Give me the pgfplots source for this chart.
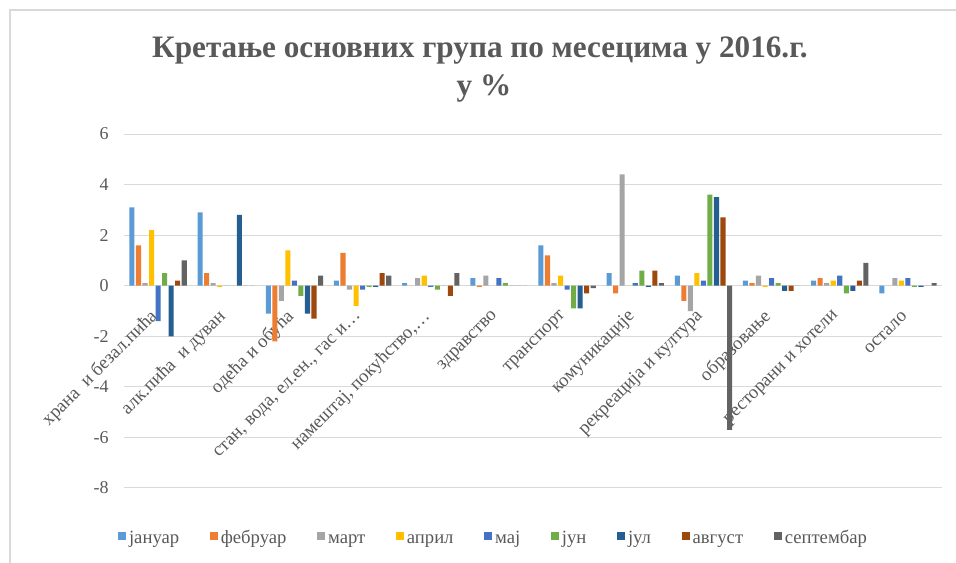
\documentclass[border=0pt]{standalone}
\usepackage{fontspec}
\setmainfont{Liberation Serif}
\usepackage{pgfplots}
\usepackage{pgfplotstable}
\pgfplotsset{compat=1.18}
\definecolor{txt}{HTML}{595959}
\definecolor{grd}{HTML}{D9D9D9}
\definecolor{cA}{HTML}{5B9BD5}
\definecolor{cB}{HTML}{ED7D31}
\definecolor{cC}{HTML}{A5A5A5}
\definecolor{cD}{HTML}{FFC000}
\definecolor{cE}{HTML}{4472C4}
\definecolor{cF}{HTML}{70AD47}
\definecolor{cG}{HTML}{255E91}
\definecolor{cH}{HTML}{9E480E}
\definecolor{cI}{HTML}{636363}
\pgfplotstableread{
x jan feb mar apr maj jun jul avg sep
1 3.1 1.6 0.1 2.2 -1.4 0.5 -2.0 0.2 1.0
2 2.9 0.5 0.1 -0.05 0 0 2.8 0 0
3 -1.1 -2.2 -0.6 1.4 0.2 -0.4 -1.1 -1.3 0.4
4 0.2 1.3 -0.15 -0.8 -0.15 -0.05 -0.05 0.5 0.4
5 0.1 0 0.3 0.4 -0.05 -0.15 0 -0.4 0.5
6 0.3 -0.05 0.4 0 0.3 0.1 0 0 0
7 1.6 1.2 0.1 0.4 -0.15 -0.9 -0.9 -0.3 -0.1
8 0.5 -0.3 4.4 0 0.1 0.6 -0.05 0.6 0.1
9 0.4 -0.6 -1.0 0.5 0.2 3.6 3.5 2.7 -5.7
10 0.2 0.1 0.4 -0.05 0.3 0.1 -0.2 -0.2 0
11 0.2 0.3 0.1 0.2 0.4 -0.3 -0.2 0.2 0.9
12 -0.3 0 0.3 0.2 0.3 -0.05 -0.05 0 0.1
}\data
\begin{document}
\begin{tikzpicture}
\path[use as bounding box, fill=white] (0,0) rectangle (717pt,422.25pt);
\draw[grd, line width=1.5pt] (7.5pt,0) -- (7.5pt,414.75pt) -- (717pt,414.75pt);
\node[font=\fontsize{23.4}{27}\selectfont\bfseries, text=txt, align=center] at (360pt,384pt) {Кретање основних група по месецима у 2016.г.};
\node[font=\fontsize{23.4}{27}\selectfont\bfseries, text=txt] at (363pt,356pt) {у \%};
\begin{axis}[
  at={(93pt,56.25pt)}, anchor=south west,
  scale only axis, width=613.5pt, height=265.5pt,
  ybar=1.1pt, bar width=3.8pt,
  xmin=0.5, xmax=12.5, ymin=-8, ymax=6,
  ytick={-8,-6,...,6},
  xtick={1,...,12},
  xticklabels={храна\ \ и безал.пића, алк.пића\ \ и дуван, одећа и обућа, {стан, вода, ел.ен., гас и…}, {намештај, покућство,…}, здравство, транспорт, комуникације, рекреација и култура, образовање, ресторани и хотели, остало},
  axis line style={draw=none},
  major tick length=0pt,
  ymajorgrids, grid style={grd, line width=0.75pt},
  /pgf/number format/assume math mode=true,
  yticklabel style={font=\fontsize{13.5}{16}\selectfont, text=txt, xshift=-8pt},
  xticklabel style={font=\fontsize{14}{16}\selectfont, text=txt, yshift=133pt, rotate=45, anchor=east},
  legend style={draw=none, fill=none, at={(0.4523,-0.145)}, anchor=center, font=\fontsize{14}{16}\selectfont, text=txt, legend columns=9, nodes={text height=9.5pt, text depth=3pt}, /tikz/every even column/.append style={column sep=21.2pt}},
  legend image code/.code={\fill[#1] (0pt,-0.5pt) rectangle (6pt,5.5pt);},
]
\addplot[fill=cA, draw=none] table[x=x, y=jan] {\data};
\addplot[fill=cB, draw=none] table[x=x, y=feb] {\data};
\addplot[fill=cC, draw=none] table[x=x, y=mar] {\data};
\addplot[fill=cD, draw=none] table[x=x, y=apr] {\data};
\addplot[fill=cE, draw=none] table[x=x, y=maj] {\data};
\addplot[fill=cF, draw=none] table[x=x, y=jun] {\data};
\addplot[fill=cG, draw=none] table[x=x, y=jul] {\data};
\addplot[fill=cH, draw=none] table[x=x, y=avg] {\data};
\addplot[fill=cI, draw=none] table[x=x, y=sep] {\data};
\legend{јануар, фебруар, март, април, мај, јун, јул, август, септембар}
\end{axis}
\end{tikzpicture}
\end{document}
